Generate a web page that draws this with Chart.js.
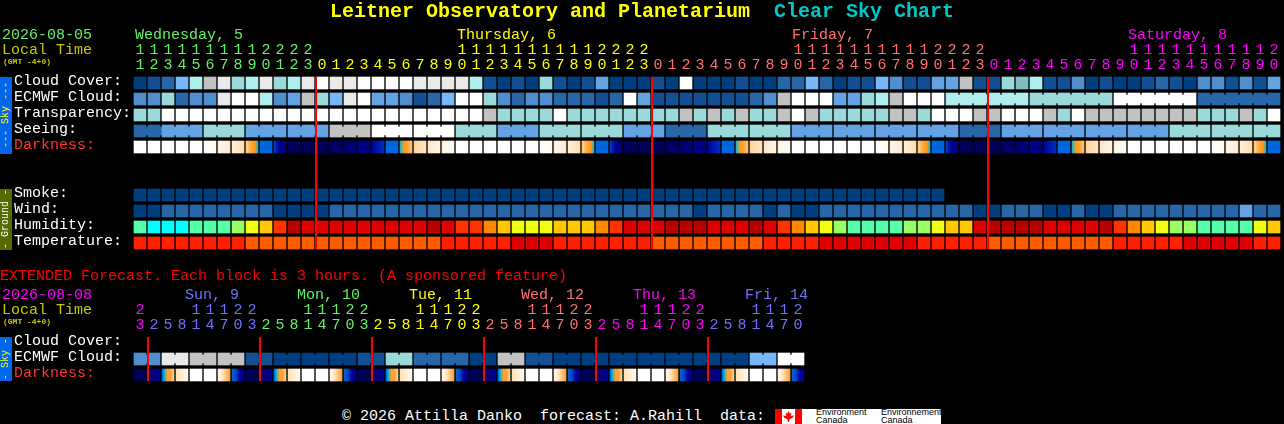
<!DOCTYPE html>
<html><head><meta charset="utf-8"><title>Leitner Observatory and Planetarium Clear Sky Chart</title>
<script src="https://cdn.jsdelivr.net/npm/chart.js@4"></script>
<style>
html,body{margin:0;padding:0;background:#000;overflow:hidden;width:1284px;height:424px}
canvas{position:absolute;left:0}
.t{position:absolute;white-space:pre;font:15px/16px "Liberation Mono",monospace}
.side{position:absolute;left:0;width:12px;display:flex;align-items:center;justify-content:center}
.side span{writing-mode:vertical-rl;transform:rotate(180deg);font:10px/12px "Liberation Mono",monospace;white-space:pre}
</style></head><body>
<canvas id="main" width="1284" height="252" style="top:0;width:1284px;height:252px"></canvas>
<canvas id="ext" width="1284" height="104" style="top:280px;width:1284px;height:104px"></canvas>
<div id="txt"></div>
<script>
const rowLabels=['Cloud Cover:','ECMWF Cloud:','Transparency:','Seeing:','Darkness:',' ','  ','Smoke:','Wind:','Humidity:','Temperature:'];
const extRowLabels=['Cloud Cover:','ECMWF Cloud:','Darkness:'];
const hours=[11,12,13,14,15,16,17,18,19,20,21,22,23,
0,1,2,3,4,5,6,7,8,9,10,11,12,13,14,15,16,17,18,19,20,21,22,23,
0,1,2,3,4,5,6,7,8,9,10,11,12,13,14,15,16,17,18,19,20,21,22,23,
0,1,2,3,4,5,6,7,8,9,10,11,12,13,14,15,16,17,18,19,20];
const extHours=[23,2,5,8,11,14,17,20,23,2,5,8,11,14,17,20,23,2,5,8,11,14,17,20,23,2,5,8,11,14,17,20,23,2,5,8,11,14,17,20,23,2,5,8,11,14,17,20];
const dayColors=['#66F066','#FFFF00','#FF7070','#FF00FF'];
const extDayColors=['#FF00FF','#7070FF','#66F066','#FFFF00','#FF7070','#FF00FF','#7070FF'];
const skyPalette=['#003F7F','#134F93','#2767A7','#4F8FCF','#63A3E3','#77B7F7','#9ADADA','#AEEEEE','#C2C2C2','#EAEAEA','#FFFFFF','#7FBFBF'];
const humidityPalette=['#00FFFF','#55FFAA','#99FF66','#EEFF11','#FFC800','#FF8800','#FF3300','#E00000','#B80000'];
const tempPalette=['#FF2000','#FF5C00','#E00000'];
const darkPalette=['#FFFFFF','#FFF3E3','#FFE6C6','#FFD49A','#FFB860','#FFA030','#FF9A18','#00B8E0','#0066E0','#0044C0','#0000A0','#000080','#000058'];
const cloud=[0,1,2,5,7,8,9,6,7,9,6,7,9,10,9,9,10,10,10,10,9,9,9,9,7,1,0,1,0,6,1,0,1,4,0,0,0,1,0,10,0,0,0,1,0,0,2,2,5,2,0,1,1,5,3,1,1,4,4,8,1,1,6,11,7,1,1,3,0,1,0,0,1,2,1,0,3,3,1,3,1,4];
const ecmwf=[3,3,6,2,3,3,9,10,10,7,3,4,8,6,5,9,10,4,4,3,1,2,5,10,10,6,3,2,3,3,2,2,2,1,2,10,4,1,1,1,1,1,1,1,2,3,8,10,10,10,4,4,6,7,8,10,10,10,7,7,7,7,7,7,6,6,6,6,6,6,10,10,10,10,10,10,2,2,2,2,2,2];
const transparency=[6,6,10,10,10,10,10,10,10,10,10,10,10,10,10,10,10,10,10,10,10,10,10,10,10,8,6,6,6,6,10,6,6,6,6,6,6,6,6,8,6,8,6,8,6,6,8,10,8,6,6,6,6,6,8,8,6,10,10,10,8,8,10,10,10,8,6,10,8,8,8,8,8,8,8,8,6,6,6,8,6,10];
const seeing=[2,2,4,4,4,6,6,6,4,4,4,4,4,4,8,8,8,10,10,10,10,10,10,6,6,6,4,4,4,6,6,6,6,6,6,4,4,4,2,2,2,6,6,6,6,6,6,4,4,4,4,4,4,4,4,4,4,4,4,2,2,2,4,4,4,4,4,4,4,4,4,4,4,4,6,6,6,6,6,6,6,6];
const seeingBlockStart=[0,2,5,8,11,14,17,20,23,26,29,32,35,38,41,44,47,50,53,56,59,62,65,68,71,74,77,80];
const ecmwfBlockStart=[58,64,70,76];
const ecmwfBlockLen=6;
const darkStart=[0,0,0,0,0,0,.8,1.5,3,8,9,12,12,12,11.7,11.3,11,10,8,7,3,2,1,0,0,0,0,0,0,0,.8,1.5,3,8,9,12,12,12,11.7,11.3,11,10,8,7,3,2,1,0,0,0,0,0,0,0,.8,1.5,3,8,9,12,12,12,11.7,11.3,11,10,8,7,3,2,1,0,0,0,0,0,0,0,.8,1.5,3,8];
const darkEnd=[0,0,0,0,0,.6,1.5,2.5,7,8,11.5,12,12,12,11.7,11.3,11,9.3,8,3.5,2,1,.3,0,0,0,0,0,0,.6,1.5,2.5,7,8,11.5,12,12,12,11.7,11.3,11,9.3,8,3.5,2,1,.3,0,0,0,0,0,0,.6,1.5,2.5,7,8,11.5,12,12,12,11.7,11.3,11,9.3,8,3.5,2,1,.3,0,0,0,0,0,0,.6,1.5,2.5,7,8];
const smoke=[0,0,0,0,0,0,0,0,0,0,0,0,0,0,0,0,0,0,0,0,0,0,0,0,0,0,0,0,0,0,0,0,0,0,0,0,0,0,0,0,0,0,0,0,0,0,0,0,0,0,0,0,0,0,0,0,0,0];
const wind=[0,0,2,2,2,2,2,2,2,2,0,0,0,0,2,2,2,2,2,2,2,2,2,2,2,2,2,2,2,2,2,2,2,2,2,2,2,2,2,2,0,2,2,2,2,0,2,0,0,2,2,2,2,2,2,2,2,2,2,2,0,0,2,2,2,0,0,2,0,0,2,2,2,2,2,2,2,2,2,4,2,2];
const humidity=[1,0,0,0,1,1,1,2,3,4,6,8,7,7,7,7,7,7,7,7,7,8,7,6,6,5,4,3,3,3,4,4,4,5,6,7,7,7,8,8,8,7,7,7,8,7,6,5,4,3,2,1,1,1,1,2,2,3,4,4,7,8,8,8,8,7,7,7,7,8,6,5,4,3,2,2,1,1,1,1,3,4];
const temperature=[0,0,0,0,0,0,0,0,1,1,1,1,1,1,1,1,1,1,1,1,1,1,0,0,0,0,0,2,2,2,0,0,0,0,0,0,0,1,1,1,1,1,1,1,1,0,0,0,0,2,2,2,2,2,2,2,0,0,0,0,0,1,1,1,1,1,1,1,1,1,0,0,0,0,0,2,2,2,2,2,0,0];
const extEcmwf=[3,3,9,9,8,8,8,8,1,1,0,0,0,0,0,0,1,1,6,6,2,2,2,2,0,0,8,8,1,1,0,0,0,0,0,0,0,0,0,0,0,0,0,0,5,5,10,10];
const extDarkStart=[12,11.5,8,2.5,0,0,.5,8,12,11.5,8,2.5,0,0,.5,8,12,11.5,8,2.5,0,0,.5,8,12,11.5,8,2.5,0,0,.5,8,12,11.5,8,2.5,0,0,.5,8,12,11.5,8,2.5,0,0,.5,8];
const extDarkEnd=[12,10.5,3,.5,0,0,5,11,12,10.5,3,.5,0,0,5,11,12,10.5,3,.5,0,0,5,11,12,10.5,3,.5,0,0,5,11,12,10.5,3,.5,0,0,5,11,12,10.5,3,.5,0,0,5,11];
const midnights=[13,37,61];
const extMidnights=[1,9,17,25,33,41];

function cellRange(i){return [i-6/14,i+6/14];}
function cells(label,vals,pal){
  return {data:vals.map((v,i)=>({x:cellRange(i),y:label})),backgroundColor:vals.map(v=>pal[v]),
    barThickness:12,grouped:false,borderWidth:0,borderSkipped:false,order:2};
}
function bridges(label,vals,pal,starts,lens){
  const d=[],c=[];
  starts.forEach((s,k)=>{
    const n=Array.isArray(lens)?lens[k]:lens;
    for(let i=s;i<s+n-1&&i+1<vals.length;i++){d.push({x:[i+6/14,i+8/14],y:label});c.push(pal[vals[i]]);}
  });
  return {data:d,backgroundColor:c,barThickness:8,grouped:false,borderWidth:0,borderSkipped:false,order:2};
}
function gradientCells(label,start,end){
  return {data:start.map((v,i)=>({x:cellRange(i),y:label})),barThickness:12,grouped:false,borderWidth:0,borderSkipped:false,order:2,
    backgroundColor(ctx){
      if(ctx.dataIndex===undefined)return '#000';
      const i=ctx.dataIndex,s=start[i],e=end[i],sc=ctx.chart.scales.x;
      if(!sc||!isFinite(sc.getPixelForValue(0))||sc.width<=0)return '#000';
      const r=cellRange(i),g=ctx.chart.ctx.createLinearGradient(sc.getPixelForValue(r[0]),0,sc.getPixelForValue(r[1]),0);
      const col=v=>{const a=Math.floor(v),b=Math.min(a+1,darkPalette.length-1),t=v-a;
        const h=x=>[1,3,5].map(o=>parseInt(darkPalette[x].substr(o,2),16));
        const A=h(a),B=h(b);return 'rgb('+A.map((q,k)=>Math.round(q+(B[k]-q)*t)).join(',')+')';};
      g.addColorStop(0,col(s));g.addColorStop(1,col(e));
      if(s!==e){
        const lo=Math.ceil(Math.min(s,e)),hi=Math.floor(Math.max(s,e));
        for(let L=lo;L<=hi;L++){const t=(L-s)/(e-s);if(t>0&&t<1)g.addColorStop(t,darkPalette[L]);}
      }
      return g;
    }};
}
function tickColorsFor(hrs,colors){let k=0;return hrs.map((h,i)=>{if(i&&h<hrs[i-1])k++;return colors[k];});}
const redLines={id:'redLines',afterDatasetsDraw(c,a,o){
  const x=c.scales.x,ctx=c.ctx;ctx.save();ctx.fillStyle='#FF0000';
  o.at.forEach(i=>{const p=x.getPixelForValue(i-6/14);ctx.fillRect(p-1,c.chartArea.top+2,2,c.chartArea.bottom-c.chartArea.top-o.inset);});
  ctx.restore();
}};
function build(id,labels,hrs,colors,datasets,marks,pad){
  const tc=tickColorsFor(hrs,colors);
  return new Chart(document.getElementById(id),{type:'bar',plugins:[redLines],
    data:{labels:labels,datasets:datasets},
    options:{indexAxis:'y',responsive:false,animation:false,devicePixelRatio:1,
      layout:{padding:{left:14,right:pad.right,top:0,bottom:1}},
      parsing:{xAxisKey:'x',yAxisKey:'y'},
      plugins:{legend:{display:false},tooltip:{enabled:false},title:{display:false},redLines:{at:marks,inset:4}},
      scales:{
        x:{type:'linear',position:'top',min:-0.5,max:hrs.length-0.5,
          grid:{display:false},border:{display:false},
          afterFit(s){s.height=pad.axis;s.paddingLeft=0;s.paddingRight=0;},
          afterBuildTicks(s){s.ticks=hrs.map((h,i)=>({value:i}));},
          ticks:{autoSkip:false,maxRotation:0,minRotation:0,padding:-6,
            font:{family:'"Liberation Mono"',size:15,lineHeight:'15px'},
            color:c=>tc[c.index],
            callback(v,i){const h=hrs[i];return [h>=10?String(Math.floor(h/10)):' ',String(h%10)];}}},
        y:{type:'category',position:'left',offset:true,labels:labels,
          grid:{display:false},border:{display:false},
          afterFit(s){s.width=119;s.paddingTop=0;s.paddingBottom=0;},
          ticks:{autoSkip:false,crossAlign:'far',padding:0,labelOffset:-2,
            font:{family:'"Liberation Mono"',size:15},
            color:c=>labels[c.index]==='Darkness:'?'#FF3333':'#FFFFFF'}}
      }}});
}
const mainSets=[
 cells(rowLabels[0],cloud,skyPalette),
 cells(rowLabels[1],ecmwf,skyPalette),
 bridges(rowLabels[1],ecmwf,skyPalette,ecmwfBlockStart,ecmwfBlockLen),
 cells(rowLabels[2],transparency,skyPalette),
 cells(rowLabels[3],seeing,skyPalette),
 bridges(rowLabels[3],seeing,skyPalette,seeingBlockStart,3),
 gradientCells(rowLabels[4],darkStart,darkEnd),
 cells(rowLabels[7],smoke,skyPalette),
 cells(rowLabels[8],wind,skyPalette),
 cells(rowLabels[9],humidity,humidityPalette),
 cells(rowLabels[10],temperature,tempPalette)
];
const extSets=[
 cells(extRowLabels[1],extEcmwf,skyPalette),
 bridges(extRowLabels[1],extEcmwf,skyPalette,[0,2,4,6,8,10,12,14,16,18,20,22,24,26,28,30,32,34,36,38,40,42,44,46],2),
 gradientCells(extRowLabels[2],extDarkStart,extDarkEnd)
];
build('main',rowLabels,hours,dayColors,mainSets,midnights,{right:3,axis:75});
build('ext',extRowLabels,extHours,extDayColors,extSets,extMidnights,{right:479,axis:55});

const texts=[
 ['Leitner Observatory and Planetarium',330,1,'#FFFF00','bold 20px/22px'],
 ['Clear Sky Chart',774,1,'#00C8C8','bold 20px/22px'],
 ['2026-08-05',2,28,'#66F066'],['Local Time',2,43,'#C8C800'],['(GMT -4+0)',3,57,'#C8C800','bold 8px/10px'],
 ['Wednesday, 5',135,28,'#66F066'],['Thursday, 6',457,28,'#FFFF00'],['Friday, 7',792,28,'#FF7070'],['Saturday, 8',1128,28,'#FF00FF'],
 ['EXTENDED Forecast. Each block is 3 hours. (A sponsored feature)',0,269,'#FF0000'],
 ['2026-08-08',2,288,'#FF00FF'],['Local Time',2,303,'#C8C800'],['(GMT -4+0)',3,317,'#C8C800','bold 8px/10px'],
 ['Sun, 9',185,288,'#7070FF'],['Mon, 10',297,288,'#66F066'],['Tue, 11',409,288,'#FFFF00'],['Wed, 12',521,288,'#FF7070'],['Thu, 13',633,288,'#FF00FF'],['Fri, 14',745,288,'#7070FF'],
 ['\u00A9 2026 Attilla Danko  forecast: A.Rahill  data:',342,409,'#FFFFFF']
];
const box=document.getElementById('txt');
texts.forEach(([s,x,y,c,f])=>{const d=document.createElement('div');d.className='t';d.textContent=s;
 d.style.cssText='left:'+x+'px;top:'+y+'px;color:'+c+';'+(f?'font:'+f+' "Liberation Mono",monospace':'');box.appendChild(d);});
[['--- Sky ---',77,77,'#0066EE','#FFFF00'],['- Ground -',189,61,'#556B00','#FFFFFF'],['- Sky -',337,44,'#0066EE','#FFFF00']].forEach(([s,y,h,bg,c])=>{
 const d=document.createElement('div');d.className='side';d.style.cssText='top:'+y+'px;height:'+h+'px;background:'+bg+';color:'+c;
 const p=document.createElement('span');p.textContent=s;d.appendChild(p);box.appendChild(d);});
const logo=document.createElement('div');
logo.style.cssText='position:absolute;left:775px;top:409px;width:166px;height:15px;background:#fff;overflow:hidden';
logo.innerHTML='<div style="position:absolute;left:0;top:0;width:7px;height:15px;background:#f00"></div><div style="position:absolute;left:20px;top:0;width:7px;height:15px;background:#f00"></div>'+
 '<div style="position:absolute;left:8px;top:2px;width:11px;height:11px;background:#f00;clip-path:polygon(50% 0,62% 22%,75% 18%,70% 45%,100% 40%,88% 62%,60% 75%,55% 100%,45% 100%,40% 75%,12% 62%,0 40%,30% 45%,25% 18%,38% 22%)"></div>'+
 '<div style="position:absolute;left:41px;top:0;font:9px/7.5px \'Liberation Sans\',sans-serif;color:#000;white-space:pre">Environment\nCanada</div>'+
 '<div style="position:absolute;left:106px;top:0;font:9px/7.5px \'Liberation Sans\',sans-serif;color:#000;white-space:pre">Environnement\nCanada</div>';
box.appendChild(logo);
</script>
</body></html>
